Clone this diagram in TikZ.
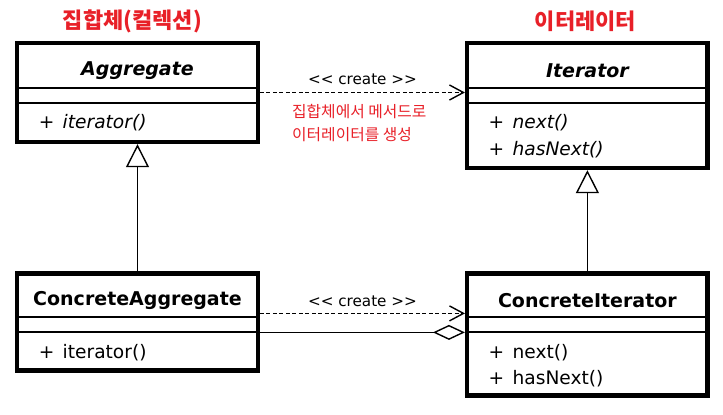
\documentclass[tikz,border=0pt]{standalone}
\usepackage{fontspec}
\setmainfont{DejaVu Sans}
\newfontfamily\kr{Noto Sans CJK KR}
\usepackage{xcolor}
\usepackage{tikz}
\usetikzlibrary{arrows.meta,positioning,calc}
\definecolor{titlered}{RGB}{232,32,40}

\begin{document}
\begin{tikzpicture}[x=1pt, y=1pt, >=Latex]
    \tikzstyle{classbox} = [rectangle, draw=black, line width=4.4pt, fill=white, minimum width=240.5pt, inner sep=0pt]
    \tikzstyle{classname} = [font=\fontsize{19}{21}\selectfont\bfseries, inner sep=0pt]
    \tikzstyle{member} = [font=\fontsize{18.6}{20}\selectfont, anchor=west, inner sep=0pt]
    \tikzstyle{sep} = [line width=1.8pt]
    \tikzstyle{stereo} = [font=\fontsize{15.2}{16}\selectfont, inner sep=0pt]
    \tikzstyle{note} = [font=\kr\fontsize{15.8}{23}\selectfont, text=titlered, align=left, inner sep=0pt, anchor=north west]
    \tikzstyle{title} = [font=\kr\bfseries\fontsize{22}{24}\selectfont, text=titlered, inner sep=0pt]
    \tikzstyle{create} = [line width=1.4pt, dash pattern=on 4pt off 2.5pt, -{Straight Barb[length=14pt, width=15pt]}]
    \tikzstyle{inherit} = [line width=1.4pt, -{Triangle[open, length=23pt, width=23pt]}]
    \tikzstyle{aggregate} = [line width=1.4pt, -{Diamond[open, length=32pt, width=15pt]}]

    \useasboundingbox (0,0) rectangle (723,-415);

    % abstract classes
    \node[classbox, minimum height=99pt] (agg) at (137.5,-92.5) {};
    \node[classbox, minimum height=125pt, right=205pt of agg.north east, anchor=north west] (iter) {};
    % concrete classes
    \node[classbox, minimum height=97pt, below=127pt of agg] (cagg) {};
    \node[classbox, minimum height=122pt, below=101pt of iter] (citer) {};

    % compartments
    \draw[sep] ($(agg.north west)+(0,-47)$) -- ($(agg.north east)+(0,-47)$);
    \draw[sep] ($(agg.north west)+(0,-62)$) -- ($(agg.north east)+(0,-62)$);
    \draw[sep] ($(iter.north west)+(0,-47)$) -- ($(iter.north east)+(0,-47)$);
    \draw[sep] ($(iter.north west)+(0,-62)$) -- ($(iter.north east)+(0,-62)$);
    \draw[sep] ($(cagg.north west)+(0,-46)$) -- ($(cagg.north east)+(0,-46)$);
    \draw[sep] ($(cagg.north west)+(0,-61)$) -- ($(cagg.north east)+(0,-61)$);
    \draw[sep] ($(citer.north west)+(0,-46)$) -- ($(citer.north east)+(0,-46)$);
    \draw[sep] ($(citer.north west)+(0,-61)$) -- ($(citer.north east)+(0,-61)$);

    % names and members
    \node[classname] (aggname) at ($(agg.north)+(0,-30)$) {\itshape Aggregate};
    \node[member] (aggop) at ($(agg.north west)+(23.5,-82)$) {\itshape +\hspace{2.5pt} iterator()};
    \node[classname] (itername) at ($(iter.north)+(0,-30)$) {\itshape Iterator};
    \node[member] (iternext) at ($(iter.north west)+(23.5,-82)$) {\itshape +\hspace{2.5pt} next()};
    \node[member] (iterhas) at ($(iter.north west)+(23.5,-109)$) {\itshape +\hspace{2.5pt} hasNext()};
    \node[classname] (caggname) at ($(cagg.north)+(0,-29)$) {ConcreteAggregate};
    \node[member] (caggop) at ($(cagg.north west)+(23.5,-81)$) {+\hspace{2.5pt} iterator()};
    \node[classname] (citername) at ($(citer.north)+(0,-29)$) {ConcreteIterator};
    \node[member] (citernext) at ($(citer.north west)+(23.5,-81)$) {+\hspace{2.5pt} next()};
    \node[member] (citerhas) at ($(citer.north west)+(23.5,-107)$) {+\hspace{2.5pt} hasNext()};

    % titles
    \node[title] (aggtitle) at ($(agg.north)+(-5,19)$) {집합체(컬렉션)};
    \node[title] (itertitle) at ($(iter.north)+(-2,20)$) {이터레이터};

    % relations
    \draw[inherit] (cagg) -- (agg);
    \draw[inherit] (citer) -- (iter);
    \draw[create] (agg.east) -- (agg.east -| iter.west)
        node[stereo, midway, yshift=13.5pt] (create1) {<{}< create >{}>};
    \node[note] (createnote) at ($(agg.east)+(32,-12)$) {집합체에서 메서드로\\이터레이터를 생성};
    \coordinate (cr) at ($(cagg.east)+(0,8.5)$);
    \coordinate (ag) at ($(cagg.east)+(0,-10.5)$);
    \draw[create] (cr) -- (cr -| citer.west)
        node[stereo, midway, yshift=12pt] (create2) {<{}< create >{}>};
    \draw[aggregate] (ag) -- (ag -| citer.west);
\end{tikzpicture}
\end{document}
